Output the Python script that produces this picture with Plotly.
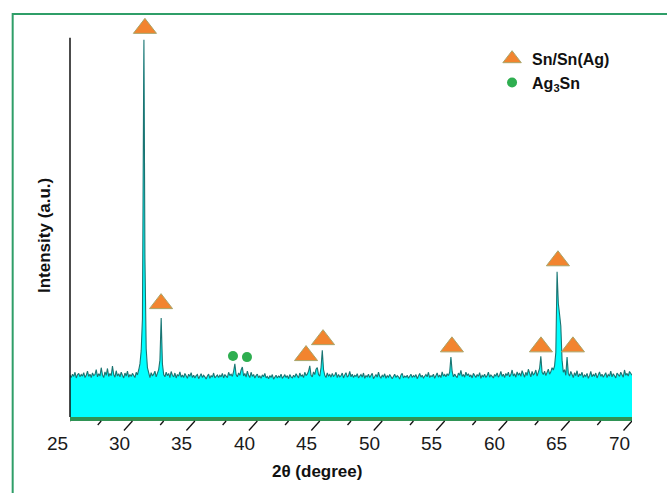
import plotly.graph_objects as go

# ---------------- data ----------------
base_start = 25.0
base_step = 0.1
base_intensity = [
    110, 104, 113, 107, 118, 103, 111, 115, 106, 112,   # 25
    108, 117, 104, 110, 121, 107, 113, 104, 116, 109,   # 26
    112, 125, 106, 114, 108, 130, 111, 104, 119, 110,   # 27
    128, 107, 115, 109, 134, 112, 105, 122, 108, 114,   # 28
    106, 118, 110, 103, 116, 108, 121, 105, 112, 107,   # 29
    115, 109, 104, 118, 111, 124, 140, 175, 260, 900,   # 30
    420, 180, 130, 112, 104, 117, 108, 113, 121, 106,   # 31
    114, 125, 150, 261, 140, 112, 106, 118, 109, 115,   # 32
    104, 120, 110, 106, 116, 103, 112, 108, 119, 105,   # 33
    111, 104, 115, 108, 102, 113, 107, 117, 104, 110,   # 34
    103, 109, 112, 101, 107, 114, 104, 110, 106, 100,   # 35
    108, 113, 102, 109, 105, 116, 103, 107, 111, 104,   # 36
    110, 106, 115, 103, 112, 108, 104, 118, 109, 113,   # 37
    107, 120, 140, 112, 106, 116, 110, 124, 132, 108,   # 38
    115, 105, 121, 110, 104, 118, 107, 112, 103, 109,   # 39
    113, 104, 108, 102, 111, 106, 115, 103, 107, 101,   # 40
    109, 104, 112, 100, 106, 110, 103, 108, 105, 113,   # 41
    102, 107, 111, 104, 109, 101, 112, 106, 103, 110,   # 42
    105, 114, 108, 103, 116, 107, 111, 104, 118, 109,   # 43
    113, 121, 135, 110, 106, 119, 112, 126, 130, 112,   # 44
    108, 130, 176, 125, 110, 104, 116, 108, 112, 105,   # 45
    115, 107, 110, 118, 104, 112, 106, 109, 116, 103,   # 46
    111, 117, 105, 109, 120, 106, 113, 104, 110, 107,   # 47
    114, 103, 108, 112, 105, 116, 102, 109, 106, 113,   # 48
    104, 110, 115, 101, 108, 112, 105, 118, 107, 103,   # 49
    110, 106, 114, 102, 109, 105, 112, 108, 101, 107,   # 50
    113, 104, 109, 106, 100, 111, 115, 103, 108, 105,   # 51
    110, 102, 107, 113, 104, 109, 106, 112, 101, 108,   # 52
    115, 105, 110, 103, 108, 112, 106, 118, 104, 109,   # 53
    107, 113, 102, 110, 116, 105, 111, 104, 119, 108,   # 54
    112, 106, 114, 109, 118, 158, 120, 106, 113, 108,   # 55
    104, 116, 110, 123, 107, 112, 105, 118, 109, 114,   # 56
    106, 111, 103, 115, 108, 104, 112, 107, 117, 102,   # 57
    110, 106, 113, 104, 109, 118, 105, 111, 107, 103,   # 58
    112, 108, 116, 105, 110, 120, 107, 113, 104, 115,   # 59
    109, 118, 106, 112, 124, 108, 114, 105, 119, 110,   # 60
    116, 107, 122, 111, 105, 118, 109, 126, 112, 106,   # 61
    120, 110, 115, 124, 108, 117, 128, 160, 118, 112,   # 62
    121, 109, 116, 126, 113, 119, 130, 124, 135, 170,   # 63
    383, 300, 271, 240, 150, 118, 125, 110, 158, 115,   # 64
    108, 120, 112, 104, 117, 109, 122, 106, 113, 110,   # 65
    118, 104, 111, 107, 115, 102, 109, 120, 106, 112,   # 66
    108, 116, 103, 111, 119, 107, 113, 105, 110, 117,   # 67
    104, 112, 108, 121, 106, 114, 109, 103, 116, 110,   # 68
    107, 118, 112, 105, 124, 110, 115, 108, 120, 113,   # 69
    110,                                                # 70
]
# extra point at the sharpest peak top
peak_theta = [30.92]
peak_intensity = [995]

# phase markers
sn_theta = [31.0, 32.29, 43.9, 45.26, 55.58, 62.71, 64.07, 65.27]
sn_level = [1025, 299, 162, 204, 185, 185, 412, 185]
ag3sn_theta = [38.05, 39.17]
ag3sn_level = [161, 158]

tick_major = [25, 30, 35, 40, 45, 50, 55, 60, 65, 70]
tick_minor = [27.5, 32.5, 37.5, 42.5, 47.5, 52.5, 57.5, 62.5, 67.5]
axis_top = 1000

# ---------------- build series ----------------
base_theta = [round(base_start + i * base_step, 2) for i in range(len(base_intensity))]
pts = sorted(list(zip(base_theta, base_intensity)) + list(zip(peak_theta, peak_intensity)))
two_theta = [p[0] for p in pts]
intensity = [p[1] for p in pts]

FONT = "Arial, Liberation Sans, sans-serif"
fig = go.Figure()

fig.add_trace(go.Scatter(
    x=two_theta, y=intensity, mode="lines", fill="tozeroy",
    fillcolor="#00FFFF", line=dict(color="#1b7472", width=1.1),
    showlegend=False, hoverinfo="skip"))

fig.add_trace(go.Scatter(
    x=sn_theta, y=sn_level, mode="markers", name="Sn/Sn(Ag)",
    marker=dict(symbol="triangle-up", size=20, color="#F2842F",
                line=dict(color="#a9a56a", width=1)),
    cliponaxis=False))

fig.add_trace(go.Scatter(
    x=ag3sn_theta, y=ag3sn_level, mode="markers", name="Ag<sub>3</sub>Sn",
    marker=dict(symbol="circle", size=10, color="#2eae50"),
    cliponaxis=False))

# plot area: x 70..632 px, y 17..417 px ; 0.379 px per intensity unit
Y_TOP = 1055

shapes = []
# green frame around the figure
shapes.append(dict(type="rect", xref="paper", yref="paper",
                   x0=-0.102, x1=1.2, y0=-0.4, y1=1.0075,
                   line=dict(color="#2f9e68", width=2), fillcolor="rgba(0,0,0,0)", layer="below"))
# black intensity axis
shapes.append(dict(type="line", xref="x domain", yref="y",
                   x0=0, x1=0, y0=0, y1=axis_top,
                   line=dict(color="#111111", width=1.5)))
# green floor under the pattern
shapes.append(dict(type="line", xref="x domain", yref="paper",
                   x0=0, x1=1, y0=-0.005, y1=-0.005,
                   line=dict(color="#2f9455", width=4)))
for t in tick_major:
    shapes.append(dict(type="line", xref="x", yref="paper",
                       x0=t, x1=t - 0.68, y0=-0.01, y1=-0.0338,
                       line=dict(color="#111111", width=1.3)))
for t in tick_minor:
    shapes.append(dict(type="line", xref="x", yref="paper",
                       x0=t, x1=t - 0.28, y0=-0.01, y1=-0.02,
                       line=dict(color="#111111", width=1.3)))

annotations = []
for t in tick_major:
    annotations.append(dict(x=t, y=-0.065, xref="x", yref="paper", xshift=-13,
                            text=str(t), showarrow=False, xanchor="center", yanchor="middle",
                            font=dict(family=FONT, size=19, color="#1a1a1a")))
annotations.append(dict(x=0.4395, y=-0.135, xref="paper", yref="paper",
                        text="<b>2θ (degree)</b>", showarrow=False,
                        xanchor="center", yanchor="middle",
                        font=dict(family=FONT, size=17, color="#111111")))
annotations.append(dict(x=-0.0445, y=0.455, xref="paper", yref="paper",
                        text="<b>Intensity (a.u.)</b>", showarrow=False, textangle=-90,
                        xanchor="center", yanchor="middle",
                        font=dict(family=FONT, size=17, color="#111111")))

fig.update_layout(
    width=667, height=493,
    margin=dict(l=70, r=35, t=17, b=76),
    plot_bgcolor="white", paper_bgcolor="white",
    shapes=shapes, annotations=annotations,
    legend=dict(x=0.751, y=0.938, xanchor="left", yanchor="top",
                bgcolor="rgba(0,0,0,0)", itemsizing="trace",
                font=dict(family=FONT, size=16, color="#111111", weight="bold")),
    xaxis=dict(range=[25, 70], showgrid=False, zeroline=False, showticklabels=False,
               ticks="", showline=False),
    yaxis=dict(range=[0, Y_TOP], showgrid=False, zeroline=False, showticklabels=False,
               ticks="", showline=False),
)

fig.write_html("out.html", config={"displayModeBar": False},
               post_script="document.body.style.margin='0';")
